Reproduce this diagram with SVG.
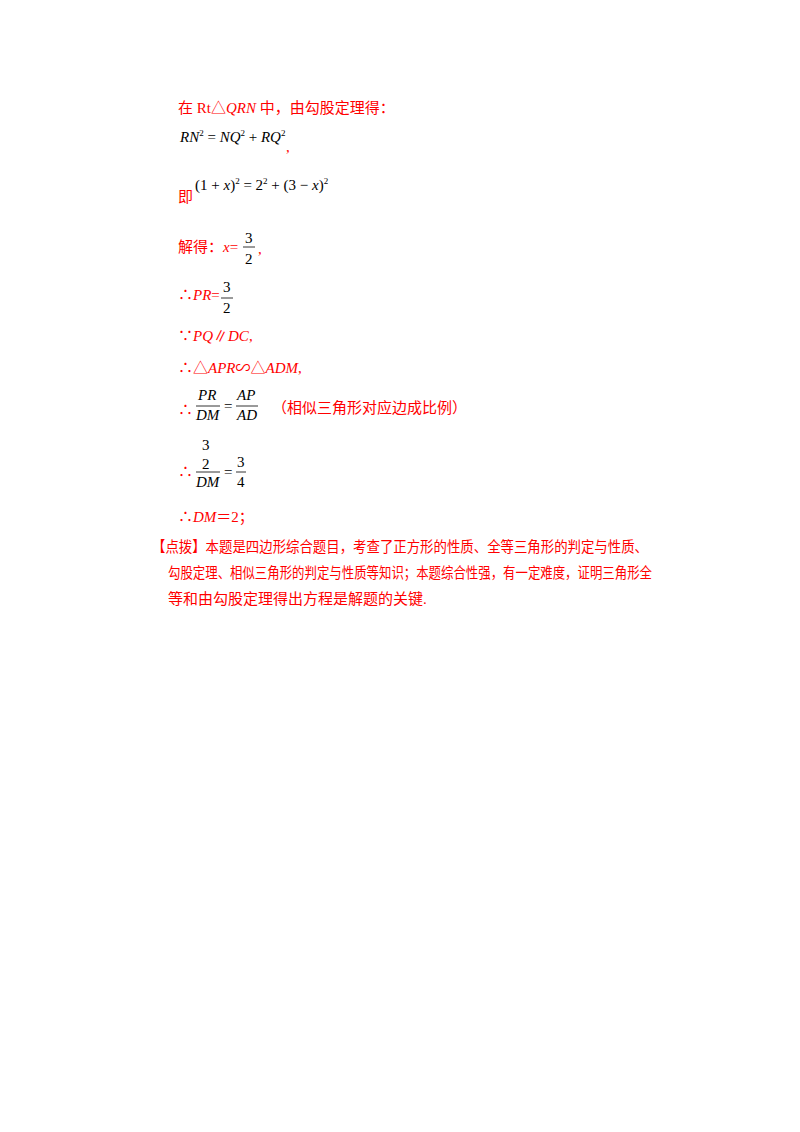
<svg xmlns="http://www.w3.org/2000/svg" width="800" height="1132" viewBox="0 0 800 1132">
<style>
.r{fill:#f00;font-family:"Liberation Serif","Noto Sans CJK SC",serif;font-size:15px}
.m{fill:#000;font-family:"Liberation Serif",serif;font-size:15px;font-style:italic}
.n{fill:#000;font-family:"Liberation Serif",serif;font-size:15px}
.s{font-size:9px}
.i{font-style:italic}
.f{stroke:#000;stroke-width:0.8}
</style>
<rect width="800" height="1132" fill="#fff"/>
<text class="r" x="178" y="113">在 Rt△<tspan class="i">QRN</tspan> 中，由勾股定理得：</text>
<text class="m" x="180" y="142">RN<tspan class="s" dy="-6" font-style="normal">2</tspan><tspan dy="6" font-style="normal"> = </tspan>NQ<tspan class="s" dy="-6" font-style="normal">2</tspan><tspan dy="6" font-style="normal"> + </tspan>RQ<tspan class="s" dy="-6" font-style="normal">2</tspan></text>
<text class="r" x="286" y="152">,</text>
<text class="r" x="178" y="202">即</text>
<text class="n" x="195" y="190">(1 + <tspan class="i">x</tspan>)<tspan class="s" dy="-6">2</tspan><tspan dy="6"> = 2</tspan><tspan class="s" dy="-6">2</tspan><tspan dy="6"> + (3 − </tspan><tspan class="i">x</tspan>)<tspan class="s" dy="-6">2</tspan></text>
<text class="r" x="178" y="252">解得：<tspan class="i">x</tspan>=</text>
<text class="n" x="245" y="243">3</text><line class="f" x1="243" y1="247" x2="255" y2="247"/><text class="n" x="245" y="264">2</text>
<text class="r" x="258" y="254">,</text>
<text class="r" x="178" y="300">∴<tspan class="i">PR</tspan>=</text>
<text class="n" x="223" y="292">3</text><line class="f" x1="221" y1="298" x2="233" y2="298"/><text class="n" x="223" y="313">2</text>
<text class="r" x="178" y="341">∵<tspan class="i">PQ</tspan>∥<tspan class="i">DC</tspan>,</text>
<text class="r" x="178" y="373">∴△<tspan class="i">APR</tspan>∽△<tspan class="i">ADM</tspan>,</text>
<text class="r" x="178" y="415" font-size="17">∴</text>
<text class="m" x="198" y="400">PR</text><line class="f" x1="196" y1="406" x2="220" y2="406"/><text class="m" x="196" y="420">DM</text>
<text class="n" x="224" y="411">=</text>
<text class="m" x="237" y="400">AP</text><line class="f" x1="236" y1="406" x2="258" y2="406"/><text class="m" x="237" y="420">AD</text>
<text class="r" x="272" y="413">（相似三角形对应边成比例）</text>
<text class="n" x="202" y="450">3</text>
<text class="n" x="202" y="469">2</text>
<line class="f" x1="196" y1="472" x2="220" y2="472"/>
<text class="m" x="196" y="487">DM</text>
<text class="r" x="178" y="477" font-size="17">∴</text>
<text class="n" x="224" y="477">=</text>
<text class="n" x="237" y="467">3</text><line class="f" x1="236" y1="472" x2="246" y2="472"/><text class="n" x="237" y="487">4</text>
<text class="r" x="178" y="522">∴<tspan class="i">DM</tspan>＝2；</text>
<text class="r" x="152" y="552" textLength="496" lengthAdjust="spacingAndGlyphs">【点拨】本题是四边形综合题目，考查了正方形的性质、全等三角形的判定与性质、</text>
<text class="r" x="168" y="578" textLength="484" lengthAdjust="spacingAndGlyphs">勾股定理、相似三角形的判定与性质等知识；本题综合性强，有一定难度，证明三角形全</text>
<text class="r" x="168" y="604">等和由勾股定理得出方程是解题的关键.</text>
</svg>
